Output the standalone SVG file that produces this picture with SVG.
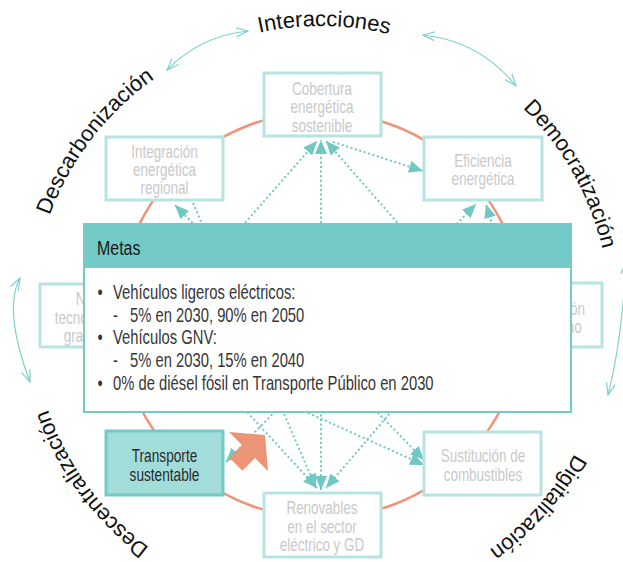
<svg xmlns="http://www.w3.org/2000/svg" width="623" height="562" viewBox="0 0 623 562">
  <style>
    .box { fill: #ffffff; stroke: #b7e4e2; stroke-width: 3; }
    .btxt { font-family: 'Liberation Sans', Arial, sans-serif; font-size: 18px; fill: #c9c9c9; text-anchor: middle; }
    .dark { fill: #2b2b2b; }
    .dot { fill: none; stroke: #6fc8c4; stroke-width: 2; stroke-dasharray: 2 2.6; }
    .thin { fill: none; stroke: #7fd0cd; stroke-width: 1.2; }
    .ring-label { font-family: 'Liberation Sans', Arial, sans-serif; font-size: 22px; fill: #111111; }
    .meta { font-family: 'Liberation Sans', Arial, sans-serif; font-size: 20px; fill: #363636; }
  </style>
  <defs>
    <path id="ring" d="M 32,315 A 289 289 0 1 1 610,315 A 289 289 0 1 1 32,315"/>
    <marker id="tri" viewBox="0 0 14 12" refX="14" refY="6" markerWidth="14" markerHeight="12" markerUnits="userSpaceOnUse" orient="auto-start-reverse">
      <path d="M0,0 L14,6 L0,12 Z" fill="#6fc8c4"/>
    </marker>
    <marker id="vee" viewBox="0 0 13 10" refX="12" refY="5" markerWidth="13" markerHeight="10" markerUnits="userSpaceOnUse" orient="auto-start-reverse">
      <path d="M0,0.5 L12,5 L0,9.5" fill="none" stroke="#7fd0cd" stroke-width="1.2"/>
    </marker>
  </defs>

  <rect width="623" height="562" fill="#ffffff"/>

  <!-- outer ring labels -->
  <g id="ring-labels" class="ring-label">
    <text><textPath href="#ring" startOffset="189" text-anchor="middle">Descarbonización</textPath></text>
    <text><textPath href="#ring" startOffset="457" text-anchor="middle">Interacciones</textPath></text>
    <text><textPath href="#ring" startOffset="759" text-anchor="middle">Democratización</textPath></text>
    <text><textPath href="#ring" startOffset="1117" text-anchor="middle">Digitalización</textPath></text>
    <text><textPath href="#ring" startOffset="1632" text-anchor="middle">Descentralización</textPath></text>
  </g>

  <!-- two-way arrows between ring labels -->
  <g id="ring-arrows">
    <path class="thin" d="M 167,70 Q 200,36 248,31" marker-start="url(#vee)" marker-end="url(#vee)"/>
    <path class="thin" d="M 423,35 Q 480,41 516,86" marker-start="url(#vee)" marker-end="url(#vee)"/>
    <path class="thin" d="M 626,262 Q 622,340 608,395" marker-start="url(#vee)" marker-end="url(#vee)"/>
    <path class="thin" d="M 30,382 Q 3,310 20,278" marker-start="url(#vee)" marker-end="url(#vee)"/>
  </g>

  <!-- orange cycle -->
  <circle id="cycle" cx="321" cy="315" r="203" fill="none" stroke="#ee9478" stroke-width="2.5"/>

  <!-- dotted interaction connectors -->
  <g id="connectors">
    <line class="dot" x1="321" y1="490" x2="321" y2="140" marker-start="url(#tri)" marker-end="url(#tri)"/>
    <line class="dot" x1="157" y1="323" x2="317" y2="141" marker-end="url(#tri)"/>
    <line class="dot" x1="485" y1="323" x2="326" y2="141" marker-end="url(#tri)"/>
    <line class="dot" x1="333" y1="142" x2="423" y2="171" marker-end="url(#tri)"/>
    <line class="dot" x1="424" y1="460" x2="175" y2="205" marker-start="url(#tri)" marker-end="url(#tri)"/>
    <line class="dot" x1="157" y1="345" x2="424" y2="465" marker-end="url(#tri)"/>
    <line class="dot" x1="157" y1="314" x2="317" y2="488" marker-end="url(#tri)"/>
    <line class="dot" x1="226" y1="462" x2="476" y2="204" marker-start="url(#tri)" marker-end="url(#tri)"/>
    <line class="dot" x1="485" y1="302" x2="326" y2="488" marker-end="url(#tri)"/>
    <line class="dot" x1="193" y1="203" x2="316" y2="488" marker-end="url(#tri)"/>
    <line class="dot" x1="510" y1="283" x2="486" y2="204" marker-end="url(#tri)"/>
  </g>

  <!-- nodes (labels set in a narrowed sans) -->
  <g id="node-cobertura">
    <rect class="box" x="264" y="73" width="117" height="63"/>
    <text class="btxt" transform="translate(322 95) scale(0.75 1)">Cobertura</text>
    <text class="btxt" transform="translate(322 113.3) scale(0.75 1)">energética</text>
    <text class="btxt" transform="translate(322 131.6) scale(0.75 1)">sostenible</text>
  </g>
  <g id="node-integracion">
    <rect class="box" x="106" y="137" width="117" height="63"/>
    <text class="btxt" transform="translate(164.5 158.3) scale(0.75 1)">Integración</text>
    <text class="btxt" transform="translate(164.5 176.3) scale(0.75 1)">energética</text>
    <text class="btxt" transform="translate(164.5 194.3) scale(0.75 1)">regional</text>
  </g>
  <g id="node-eficiencia">
    <rect class="box" x="424" y="137" width="118" height="63"/>
    <text class="btxt" transform="translate(483 166.7) scale(0.75 1)">Eficiencia</text>
    <text class="btxt" transform="translate(483 185) scale(0.75 1)">energética</text>
  </g>
  <g id="node-nuevas">
    <rect class="box" x="40" y="284" width="117" height="63"/>
    <text class="btxt" transform="translate(98.5 305) scale(0.75 1)">Nuevas</text>
    <text class="btxt" transform="translate(98.5 323.5) scale(0.75 1)">tecnologías de</text>
    <text class="btxt" transform="translate(98.5 342) scale(0.75 1)">gran escala</text>
  </g>
  <g id="node-electrificacion">
    <rect class="box" x="485" y="283" width="117" height="64"/>
    <text class="btxt" transform="translate(543.5 315) scale(0.75 1)">Electrificación</text>
    <text class="btxt" transform="translate(543.5 333) scale(0.75 1)">del consumo</text>
  </g>
  <g id="node-transporte">
    <rect x="106" y="431" width="117" height="64" fill="#a3ddda" stroke="#74c9c5" stroke-width="3"/>
    <text class="btxt dark" transform="translate(164.5 461.7) scale(0.76 1)">Transporte</text>
    <text class="btxt dark" transform="translate(164.5 480.7) scale(0.76 1)">sustentable</text>
  </g>
  <g id="node-sustitucion">
    <rect class="box" x="424" y="432" width="117" height="63"/>
    <text class="btxt" transform="translate(483 461.7) scale(0.75 1)">Sustitución de</text>
    <text class="btxt" transform="translate(483 480.7) scale(0.75 1)">combustibles</text>
  </g>
  <g id="node-renovables">
    <rect class="box" x="264" y="493" width="117" height="64"/>
    <text class="btxt" transform="translate(322 514) scale(0.75 1)">Renovables</text>
    <text class="btxt" transform="translate(322 532.7) scale(0.75 1)">en el sector</text>
    <text class="btxt" transform="translate(322 551.4) scale(0.75 1)">eléctrico y GD</text>
  </g>

  <!-- highlight arrow from the selected node -->
  <polygon id="focus-arrow" points="265,435 268,471 255,458 242.4,470.8 229.4,457.8 242,445 229,432" fill="#ec9476"/>

  <!-- goals panel -->
  <g id="metas">
    <rect x="84" y="224" width="487" height="188" fill="#ffffff" stroke="#74cac6" stroke-width="2"/>
    <rect x="84" y="224" width="487" height="44" fill="#74cac6"/>
    <text transform="translate(97 255) scale(0.76 1)" font-family="'Liberation Sans', Arial, sans-serif" font-size="21" fill="#1a1a1a">Metas</text>
    <g class="meta">
      <text transform="translate(97.5 299) scale(0.74 1)">•</text>
      <text transform="translate(113 299) scale(0.74 1)">Vehículos ligeros eléctricos:</text>
      <text transform="translate(113 321.7) scale(0.74 1)">-</text>
      <text transform="translate(130 321.7) scale(0.74 1)">5% en 2030, 90% en 2050</text>
      <text transform="translate(97.5 344.4) scale(0.74 1)">•</text>
      <text transform="translate(113 344.4) scale(0.74 1)">Vehículos GNV:</text>
      <text transform="translate(113 367.1) scale(0.74 1)">-</text>
      <text transform="translate(130 367.1) scale(0.74 1)">5% en 2030, 15% en 2040</text>
      <text transform="translate(97.5 389.8) scale(0.74 1)">•</text>
      <text transform="translate(113 389.8) scale(0.74 1)">0% de diésel fósil en Transporte Público en 2030</text>
    </g>
  </g>
</svg>
